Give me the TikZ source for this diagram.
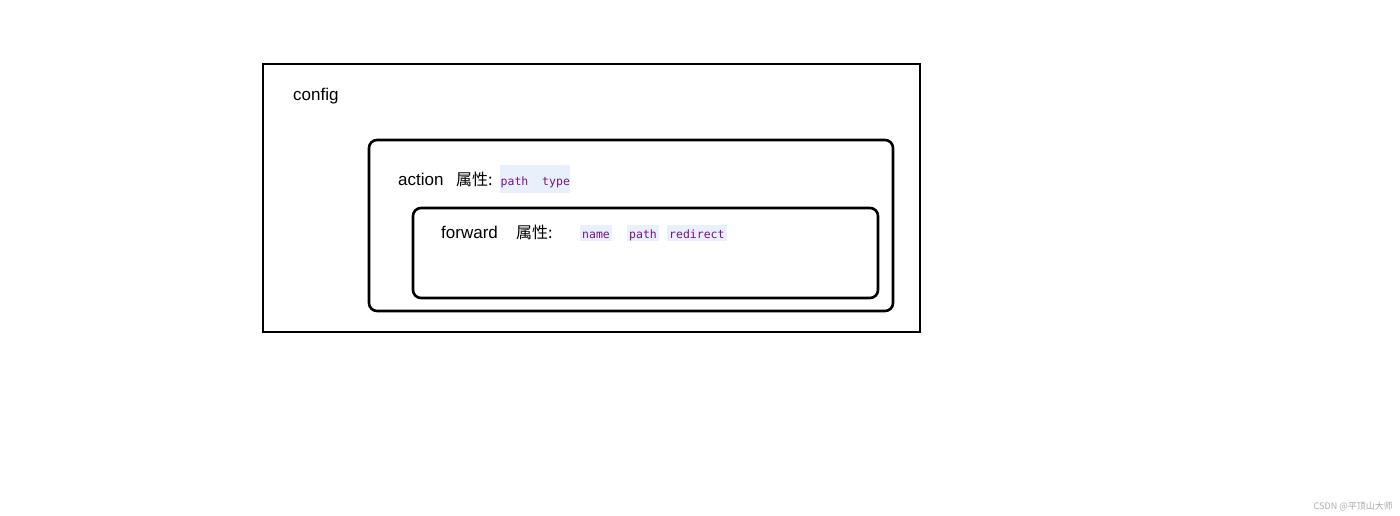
\documentclass[tikz,border=0pt]{standalone}
\usepackage{fontspec}
\setmainfont{Liberation Sans}
\setmonofont{DejaVu Sans Mono}
\newfontfamily\cjk{Noto Sans CJK SC}
\usepackage{xcolor}
\definecolor{codefg}{RGB}{119, 17, 136}
\definecolor{codebg}{RGB}{232, 240, 252}
\definecolor{markgray}{RGB}{170, 170, 170}

\begin{document}
\begin{tikzpicture}[x=1pt, y=-1pt]
			\def\lw{2.6pt}
			\def\rc{8pt}
			\tikzset{
				lbl/.style={anchor=base west, inner sep=0pt, font=\fontsize{17}{20}\selectfont},
				attr/.style={anchor=base west, inner sep=0pt, font=\cjk\fontsize{16}{20}\selectfont},
				codeA/.style={anchor=base west, inner xsep=0.5pt, inner ysep=0pt, fill=codebg,
					text height=20pt, text depth=8pt, text=codefg, font=\ttfamily\fontsize{11.5}{14}\selectfont},
				codeB/.style={codeA, inner xsep=2pt, text height=13pt, text depth=3pt}
			}
			\useasboundingbox (0,0) rectangle (1400,515);

			% Boxes: config / action / forward
			\draw[black, line width=2pt] (263,64) rectangle (920,332);
			\draw[black, line width=\lw, rounded corners=\rc] (369,140) rectangle (893,311);
			\draw[black, line width=\lw, rounded corners=\rc] (413,208) rectangle (878,298);

			% config
			\node[lbl] (config) at (293,100) {config};

			% action
			\node[lbl]   (action)   at (398,185) {action};
			\node[attr]  (actattr)  at (456,185) {属性:};
			\node[codeA] (actcode)  at (500,185) {path\ \ type};

			% forward
			\node[lbl]   (forward)  at (441,238) {forward};
			\node[attr]  (fwdattr)  at (516,238) {属性:};
			\node[codeB] (fwdname)  at (580,238) {name};
			\node[codeB] (fwdpath)  at (627,238) {path};
			\node[codeB] (fwdredir) at (667,238) {redirect};

			\node[anchor=base east, inner sep=0pt, text=markgray, font=\cjk\fontsize{9}{10}\selectfont]
				(mark) at (1393,509) {CSDN @平顶山大师};
\end{tikzpicture}
\end{document}
